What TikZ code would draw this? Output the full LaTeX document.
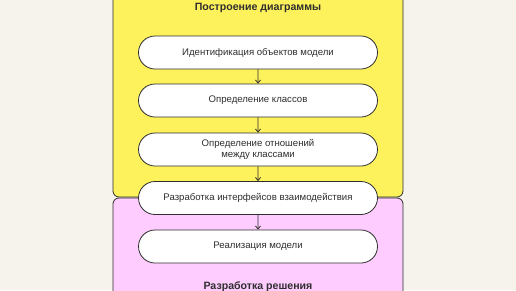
\documentclass[tikz,border=0pt]{standalone}
\usepackage{fontspec}
\setmainfont{Liberation Sans}
\usetikzlibrary{arrows.meta,shapes.misc}
\definecolor{paper}{HTML}{F6F2EC}
\definecolor{stageA}{HTML}{FEF25C}
\definecolor{stageB}{HTML}{FECCFE}
\definecolor{ink}{HTML}{2E2E2E}
\begin{document}
\begin{tikzpicture}[x=1pt,y=-1pt,stage/.style={draw=ink,line width=0.8pt,rounded corners=6pt},step box/.style={rounded rectangle,draw=ink,line width=0.8pt,fill=white,minimum width=239pt,minimum height=33pt,inner sep=0pt,align=center,font=\fontsize{9.6}{11}\selectfont,text=ink},flow/.style={draw=ink,line width=0.8pt,-{Straight Barb[length=3pt,width=5pt]}},heading/.style={font=\fontsize{10.6}{13}\selectfont\bfseries,text=ink}]
\useasboundingbox (0,0) rectangle (516,290);
\clip (0,0) rectangle (516,290);
\fill[paper] (0,0) rectangle (516,290);
\draw[stage,fill=stageA] (113,-12) rectangle (403,197);
\draw[stage,fill=stageB] (113,198) rectangle (403,310);
\node[heading] (build) at (258,8) {Построение диаграммы};
\node[heading] (solve) at (258,287) {Разработка решения};
\node[step box] (ident) at (258,52.5) {Идентификация объектов модели};
\node[step box] (classes) at (258,100.5) {Определение классов};
\node[step box] (relations) at (258,149.5) {Определение отношений\\между классами};
\node[step box] (iface) at (258,198) {Разработка интерфейсов взаимодействия};
\node[step box] (impl) at (258,246.5) {Реализация модели};
\draw[flow] (ident) -- (classes);
\draw[flow] (classes) -- (relations);
\draw[flow] (relations) -- (iface);
\draw[flow] (iface) -- (impl);
\end{tikzpicture}
\end{document}
